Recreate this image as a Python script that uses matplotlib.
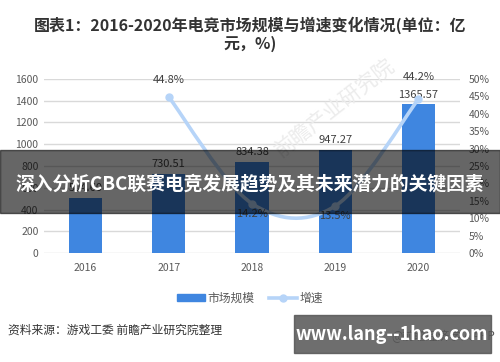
import numpy as np
import matplotlib
matplotlib.use("Agg")
from matplotlib import pyplot as plt
from matplotlib.path import Path
from matplotlib.patches import PathPatch, Rectangle
from matplotlib.lines import Line2D

plt.rcParams['font.family'] = ['Noto Sans CJK SC', 'DejaVu Sans']

# data
years = ["2016", "2017", "2018", "2019", "2020"]
market = [504.6, 730.51, 834.38, 947.27, 1365.57]
growth_years = ["2017", "2018", "2019", "2020"]
growth = [44.8, 14.2, 13.5, 44.2]

bar_c = "#3f86e0"
line_c = "#b6d4f8"
grid_c = "#d9d9d9"
txt_c = "#595959"

fig = plt.figure(figsize=(5, 3.62), dpi=100)
ax = fig.add_axes([0.088, 0.301, 0.832, 0.481])
ax2 = ax.twinx()

x = np.arange(len(years))
ax.bar(x, market, width=0.4, color=bar_c, zorder=2)
for xi, v in zip(x, market):
    ax.text(xi, v + 45, f"{v:.2f}", ha="center", va="bottom", fontsize=8, color="#404040")

ax.set_ylim(0, 1600)
ax.set_xlim(-0.5, len(years) - 0.5)
ax.set_yticks(range(0, 1601, 200))
ax.set_xticks(x)
ax.set_xticklabels(years)
ax.grid(axis="y", color=grid_c, lw=1, zorder=0)
ax.set_axisbelow(True)
for s in ax.spines.values():
    s.set_visible(False)
for s in ax2.spines.values():
    s.set_visible(False)
ax.tick_params(length=0, labelsize=7.5, labelcolor=txt_c, pad=4)
ax.tick_params(axis="x", pad=7)

# smooth growth line (bezier through the points, like excel smoothing)
gx = np.array([years.index(y) for y in growth_years], dtype=float)
gy = np.array(growth)
verts = [(gx[0], gy[0])]
codes = [Path.MOVETO]
n = len(gx)
for i in range(n - 1):
    p0 = (gx[max(i - 1, 0)], gy[max(i - 1, 0)])
    p1 = (gx[i], gy[i])
    p2 = (gx[i + 1], gy[i + 1])
    p3 = (gx[min(i + 2, n - 1)], gy[min(i + 2, n - 1)])
    c1 = (p1[0] + (p2[0] - p0[0]) / 6, p1[1] + (p2[1] - p0[1]) / 6)
    c2 = (p2[0] - (p3[0] - p1[0]) / 6, p2[1] - (p3[1] - p1[1]) / 6)
    verts += [c1, c2, p2]
    codes += [Path.CURVE4] * 3
ax2.add_patch(PathPatch(Path(verts, codes), fill=False, edgecolor=line_c, lw=2.6, zorder=3))
ax2.plot(gx, gy, "o", color=line_c, ms=5, zorder=4)
ax2.set_ylim(0, 50)
ax2.set_yticks(range(0, 51, 5))
ax2.set_yticklabels([f"{v}%" for v in range(0, 51, 5)])
ax2.tick_params(length=0, labelsize=7.5, labelcolor=txt_c, pad=6)

for xi, g in zip(gx, gy):
    if g > 40:
        dy = 3.5 if xi < 4 else 4.8
        ax2.text(xi, g + dy, f"{g}%", ha="center", va="bottom", fontsize=8, color="#404040")
    else:
        ax2.text(xi, g - 1.5, f"{g}%", ha="center", va="top", fontsize=8, color="#404040")

# faint watermark
fig.text(0.67, 0.70, "前瞻产业研究院", fontsize=15, color="#ececec", rotation=38,
         ha="center", va="center", zorder=1)

# title
fig.text(0.5, 0.93, "图表1：2016-2020年电竞市场规模与增速变化情况(单位：亿",
         ha="center", va="center", fontsize=11.5, fontweight="bold", color="#333333")
fig.text(0.5, 0.88, "元，%)", ha="center", va="center", fontsize=11.5,
         fontweight="bold", color="#333333")

# legend
handles = [Rectangle((0, 0), 1, 1, color=bar_c),
           Line2D([0], [0], color=line_c, lw=2.6, marker="o", ms=5)]
fig.legend(handles, ["市场规模", "增速"], loc="center", bbox_to_anchor=(0.5, 0.177),
           ncol=2, frameon=False, fontsize=8.5, handlelength=2.4, handleheight=0.5,
           columnspacing=1.2, handletextpad=0.2, labelcolor=txt_c)

# source
fig.text(0.016, 0.088, "资料来源：游戏工委 前瞻产业研究院整理", ha="left", va="center",
         fontsize=8.5, color="#333333")
fig.text(0.99, 0.07, "@前瞻经济学人APP", ha="right", va="center", fontsize=8.5, color="#555555")

# overlay band
fig.patches.append(Rectangle((0, 1 - 213 / 362), 1, 63 / 362, transform=fig.transFigure,
                             color="black", alpha=0.6, zorder=10))
fig.text(0.5, 1 - 184 / 362, "深入分析CBC联赛电竞发展趋势及其未来潜力的关键因素",
         ha="center", va="center", fontsize=13.5, fontweight="bold", color="white", zorder=11)

# site box
fig.patches.append(Rectangle((294 / 500, 1 - 353 / 362), 197 / 500, 38 / 362,
                             transform=fig.transFigure, color="#555555", alpha=0.85, zorder=10))
fig.text(392 / 500, 1 - 335 / 362, "www.lang--1hao.com", ha="center", va="center",
         fontsize=13, fontweight="bold", color="white", zorder=11)

fig.savefig("out.png", dpi=100)
